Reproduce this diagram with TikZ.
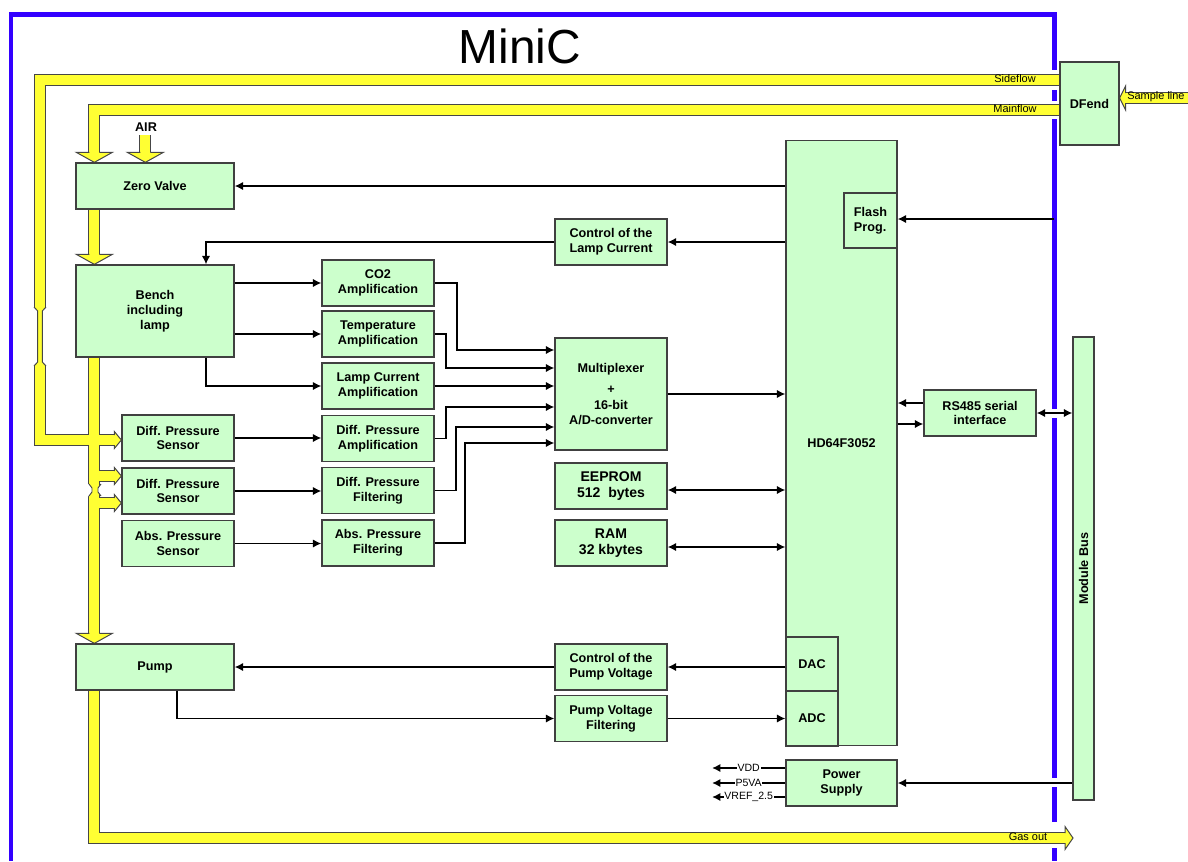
\documentclass[tikz,border=0pt]{standalone}
\usepackage{fontspec}
\setmainfont{Liberation Sans}
\usetikzlibrary{arrows.meta, calc, backgrounds}
\definecolor{boxgreen}{RGB}{204,255,204}
\definecolor{boxline}{RGB}{64,64,64}
\definecolor{pipeyellow}{RGB}{255,255,51}
\definecolor{pipeline}{RGB}{70,70,70}
\definecolor{frameblue}{RGB}{51,0,255}
\tikzstyle{block} = [rectangle, draw=boxline, line width=0.9pt, fill=boxgreen, inner sep=0pt, align=center, font=\bfseries\fontsize{9}{10.6}\selectfont]
\tikzstyle{wideblock} = [block, minimum width=3.95cm, minimum height=1.15cm]
\tikzstyle{midblock} = [block, minimum width=2.8cm, minimum height=1.15cm]
\tikzstyle{memblock} = [midblock, font=\bfseries\fontsize{10}{11.5}\selectfont]
\tikzstyle{link} = [line width=1.4pt, -{Latex[length=6pt,width=6pt]}]
\tikzstyle{duplex} = [line width=1.4pt, {Latex[length=6pt,width=6pt]}-{Latex[length=6pt,width=6pt]}]
\tikzstyle{tag} = [font=\fontsize{7.5}{8}\selectfont, inner sep=0.5pt]
\tikzstyle{flowtag} = [font=\fontsize{7.8}{8}\selectfont, inner sep=0pt]
\tikzstyle{pipeedge} = [draw=pipeline, line width=8.5pt]
\tikzstyle{pipefill} = [draw=pipeyellow, line width=7.1pt]
\tikzstyle{neck} = [draw=pipeline, line width=0.7pt]
\tikzset{pics/pipehead/.style 2 args={code={
  \fill[pipeyellow] (-#1,-#2) -- (0,0) -- (#1,-#2) -- cycle;
  \draw[neck] (-5,-#2) -- (-#1,-#2) -- (0,0) -- (#1,-#2) -- (5,-#2);
}}}
\newcommand\pipework[1]{%
  \draw[#1] (dfend.west |- 0,80) -| (40,440) -- ($(dps1.west)+(-6,2)$);
  \draw[#1] (dfend.west |- 0,110) -| ($(zv.north west)+(19,-9)$);
  \draw[#1] ($(zv.north west)+(70,-27)$) -- ($(zv.north west)+(70,-9)$);
  \draw[#1] ($(zv.south west)+(19,0)$) -- ($(bench.north west)+(19,-9)$);
  \draw[#1] ($(bench.south west)+(19,0)$) -- ($(pump.north west)+(19,-9)$);
  \draw[#1] (95,476) -- ($(dps2.west)+(-6,-15)$);
  \draw[#1] (95,503) -- ($(dps2.west)+(-6,12)$);
  \draw[#1] ($(pump.south west)+(19,0)$) |- ($(gasout)+(-7,0)$);
  \draw[#1] (sample) -- ($(dfend.east |- sample)+(5,0)$);
}
\newcommand\pipeneck[4]{%
  \fill[white] (#1-7,#2) -- (#1-6,#2) -- (#1-#4,#2+4) -- (#1-#4,#3-4) -- (#1-6,#3) -- (#1-7,#3) -- cycle;
  \fill[white] (#1+7,#2) -- (#1+6,#2) -- (#1+#4,#2+4) -- (#1+#4,#3-4) -- (#1+6,#3) -- (#1+7,#3) -- cycle;
  \draw[neck] (#1-6,#2) -- (#1-#4,#2+4) -- (#1-#4,#3-4) -- (#1-6,#3);
  \draw[neck] (#1+6,#2) -- (#1+#4,#2+4) -- (#1+#4,#3-4) -- (#1+6,#3);
}

\begin{document}
\begin{tikzpicture}[x=0.025cm, y=-0.025cm]
\useasboundingbox (0,0) rectangle (1188,861);

\node (title) at (520,46) [font=\fontsize{34}{40}\selectfont] {MiniC};
\node (air) at (146,127) [font=\bfseries\fontsize{9}{10}\selectfont] {AIR};

\node (zv) [wideblock] at (155,186) {Zero Valve};
\node (bench) [wideblock, minimum height=2.3cm] at (155,311) {Bench\\including\\lamp};
\node (pump) [wideblock] at (155,667) {Pump};
\node (dps1) [midblock] at (178,438) {Diff. Pressure\\Sensor};
\node (dps2) [midblock] at (178,491) {Diff. Pressure\\Sensor};
\node (aps) [midblock] at (178,543.5) {Abs. Pressure\\Sensor};
\node (co2) [midblock] at (378,283) {CO2\\Amplification};
\node (temp) [midblock] at (378,334) {Temperature\\Amplification};
\node (lamp) [midblock] at (378,386) {Lamp Current\\Amplification};
\node (dpamp) [midblock] at (378,438.5) {Diff. Pressure\\Amplification};
\node (dpfilt) [midblock] at (378,490.5) {Diff. Pressure\\Filtering};
\node (apfilt) [midblock] at (378,543) {Abs. Pressure\\Filtering};
\node (ctlamp) [midblock] at (611,242) {Control of the\\Lamp Current};
\node (mux) [midblock, minimum height=2.8cm] at (611,394) {Multiplexer\\[4pt]+\\[1pt]16-bit\\A/D-converter};
\node (eeprom) [memblock] at (611,486) {EEPROM\\512\ \ bytes};
\node (ram) [memblock] at (611,543) {RAM\\32 kbytes};
\node (ctpump) [midblock] at (611,667) {Control of the\\Pump Voltage};
\node (pvfilt) [midblock] at (611,718.5) {Pump Voltage\\Filtering};
\node (cpu) [block, minimum width=2.775cm, minimum height=15.125cm] at (841.5,443) {HD64F3052};
\node (flash) [block, minimum width=1.325cm, minimum height=1.375cm, align=left] at (870.5,220.5) {Flash\\Prog.};
\node (dac) [block, minimum width=1.3cm, minimum height=1.35cm] at (812,664) {DAC};
\node (adc) [block, minimum width=1.3cm, minimum height=1.375cm] at (812,718.5) {ADC};
\node (power) [block, minimum width=2.775cm, minimum height=1.15cm] at (841.5,783) {Power\\Supply};
\node (rs485) [midblock] at (980,413) {RS485 serial\\interface};
\node (bus) [block, minimum width=0.525cm, minimum height=11.575cm] at (1083.5,568.5) {};
\node (busname) [rotate=90, font=\bfseries\fontsize{9}{10}\selectfont] at (bus) {Module Bus};
\node (dfend) [block, minimum width=1.475cm, minimum height=2.075cm] at (1089.5,103.5) {DFend};

\node (sidetag) [flowtag] at (1015,79) {Sideflow};
\node (maintag) [flowtag] at (1015,109) {Mainflow};
\node (gastag) [flowtag] at (1028,837) {Gas out};
\node (sampletag) [flowtag, anchor=west] at (1127,97) {Sample line};

\coordinate (gasout) at (1073,838);
\coordinate (sample) at (1188,98);
\coordinate (flashin) at (1054,219);
\coordinate (vdd) at (712,768);
\coordinate (p5va) at (712,783);
\coordinate (vref) at (712,797);

\draw[link] (cpu.west |- zv.east) -- (zv.east);
\draw[link] (cpu.west |- ctlamp.east) -- (ctlamp.east);
\draw[link] (ctlamp.west) -| ($(bench.north)+(51,0)$);
\draw[link] (bench.east |- co2.west) -- (co2.west);
\draw[link] (bench.east |- temp.west) -- (temp.west);
\draw[link] ($(bench.south)+(51,0)$) |- (lamp.west);
\draw[link] (dps1.east) -- (dpamp.west |- dps1.east);
\draw[link] (dps2.east) -- (dpfilt.west |- dps2.east);
\draw[link] (aps.east) -- (apfilt.west |- aps.east);
\draw[link] (co2.east) -- ++(22,0) |- ($(mux.west)+(0,-44)$);
\draw[link] (temp.east) -- ++(11,0) |- ($(mux.west)+(0,-26)$);
\draw[link] (lamp.east) -- (mux.west |- lamp.east);
\draw[link] (dpamp.east) -- ++(11,0) |- ($(mux.west)+(0,13)$);
\draw[link] (dpfilt.east) -- ++(21,0) |- ($(mux.west)+(0,33)$);
\draw[link] (apfilt.east) -- ++(30,0) |- ($(mux.west)+(0,49)$);
\draw[link] (mux.east) -- (cpu.west |- mux.east);
\draw[duplex] ($(eeprom.east)+(0,4)$) -- ($(cpu.west |- eeprom.east)+(0,4)$);
\draw[duplex] ($(ram.east)+(0,4)$) -- ($(cpu.west |- ram.east)+(0,4)$);
\draw[link] (dac.west |- ctpump.east) -- (ctpump.east);
\draw[link] (ctpump.west) -- (pump.east);
\draw[link] ($(pump.south)+(22,0)$) |- (pvfilt.west);
\draw[link] (pvfilt.east) -- (adc.west |- pvfilt.east);
\draw[link] ($(rs485.west)+(0,-10)$) -- ($(cpu.east |- rs485.west)+(0,-10)$);
\draw[link] ($(cpu.east |- rs485.west)+(0,11)$) -- ($(rs485.west)+(0,11)$);
\draw[duplex] (rs485.east) -- (bus.west |- rs485.east);
\draw[link] (bus.west |- power.east) -- (power.east);
\draw[link] (flashin) -- (flash.east |- flashin);
\draw[link] (power.west |- vdd) -- node[tag, fill=white] {VDD} (vdd);
\draw[link] (power.west |- p5va) -- node[tag, fill=white] {P5VA} (p5va);
\draw[link] (power.west |- vref) -- node[tag, fill=white] {VREF\_2.5} (vref);

\begin{scope}[on background layer]
\draw[frameblue, line width=3.55pt] (11,861) |- (1054,14.5) -- (1054,861);
\fill[white] (1050,70) rectangle (1058,90);
\fill[white] (1050,101) rectangle (1058,119);
\fill[white] (1050,822) rectangle (1058,848);
\fill[white] (1050,409) rectangle (1058,418);
\fill[white] (1050,778) rectangle (1058,787);
\pipework{pipeedge}
\pipework{pipefill}
\pic at ($(zv.north west)+(19,0)$) {pipehead={18}{10}};
\pic at ($(zv.north west)+(70,0)$) {pipehead={18}{10}};
\pic at ($(bench.north west)+(19,0)$) {pipehead={18}{10}};
\pic at ($(pump.north west)+(19,0)$) {pipehead={18}{10}};
\pic[rotate=90] at ($(dps1.west)+(0,2)$) {pipehead={8.5}{7}};
\pic[rotate=90] at ($(dps2.west)+(0,-15)$) {pipehead={8.5}{7}};
\pic[rotate=90] at ($(dps2.west)+(0,12)$) {pipehead={8.5}{7}};
\pic[rotate=90] at (gasout) {pipehead={11.5}{8}};
\pic[rotate=-90] at (dfend.east |- sample) {pipehead={12}{6}};
\pipeneck{40}{307}{366}{2.3}
\pipeneck{95}{484}{496}{3}
\end{scope}
\end{tikzpicture}
\end{document}
